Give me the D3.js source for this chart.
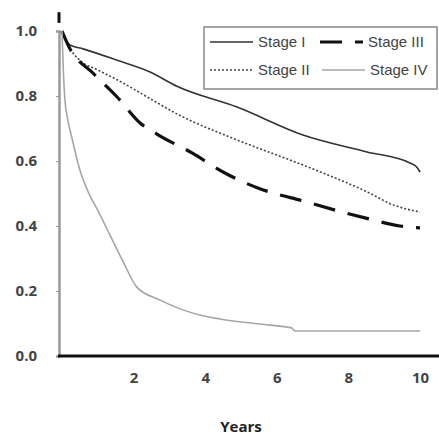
<!DOCTYPE html>
<html>
<head>
<meta charset="utf-8">
<script src="https://cdn.jsdelivr.net/npm/d3@7"></script>
<style>
  body { margin: 0; background: #fff; }
  svg { display: block; }
</style>
</head>
<body>
<div id="chart"></div>
<script>
// survival curves (years, proportion surviving)
const stageIYears = [0, 0.1, 0.22, 0.59, 1.54, 2.46, 3.21, 4.89, 6.73, 8.52, 9.72, 9.92, 10];
const stageIValues = [1.0, 0.975, 0.957, 0.945, 0.91, 0.874, 0.83, 0.766, 0.68, 0.628, 0.594, 0.58, 0.566];

const stageIIYears = [0, 0.2, 0.5, 1.0, 1.54, 2.46, 3.21, 4.89, 6.79, 8.52, 9.25, 10];
const stageIIValues = [1.0, 0.95, 0.91, 0.88, 0.85, 0.792, 0.745, 0.665, 0.585, 0.505, 0.465, 0.443];

const stageIIIYears = [0, 0.2, 0.87, 1.54, 2.18, 2.65, 3.63, 4.55, 5.47, 6.84, 7.82, 8.46, 9.44, 10];
const stageIIIValues = [1.0, 0.95, 0.87, 0.797, 0.717, 0.683, 0.625, 0.563, 0.517, 0.474, 0.443, 0.425, 0.40, 0.394];

const stageIVYears = [0, 0.04, 0.08, 0.14, 0.28, 0.5, 0.75, 1.0, 1.34, 1.7, 2.09, 2.74, 3.3, 3.85, 4.41, 5.81, 6.42, 6.5, 10];
const stageIVValues = [1.0, 0.87, 0.79, 0.74, 0.67, 0.572, 0.5, 0.448, 0.372, 0.292, 0.212, 0.172, 0.145, 0.126, 0.114, 0.095, 0.086, 0.077, 0.077];

const seriesNames = ["Stage I", "Stage II", "Stage III", "Stage IV"];
const xTicks = [2, 4, 6, 8, 10];
const yTicks = [0, 0.2, 0.4, 0.6, 0.8, 1.0];

const series = [
    { name: "Stage I", years: stageIYears, values: stageIValues, color: "#333", width: 1.6, dash: null },
    { name: "Stage II", years: stageIIYears, values: stageIIValues, color: "#444", width: 1.6, dash: "2,2" },
    { name: "Stage III", years: stageIIIYears, values: stageIIIValues, color: "#111", width: 3.2, dash: "22,13" },
    { name: "Stage IV", years: stageIVYears, values: stageIVValues, color: "#a6a6a6", width: 1.6, dash: null }
];

const width = 439, height = 439;

const x = d3.scaleLinear().domain([0, 10]).range([62, 420]);
const y = d3.scaleLinear().domain([0, 1]).range([356, 31]);

const svg = d3.select("#chart")
    .append("svg")
    .attr("width", width)
    .attr("height", height);

// y axis
const yAxis = svg.append("g")
    .attr("transform", "translate(59,0)")
    .call(d3.axisLeft(y).tickValues(yTicks).tickFormat(d3.format(".1f")).tickSize(3).tickPadding(19));
yAxis.select(".domain").attr("stroke", "#999").attr("stroke-width", 2.5);
yAxis.selectAll(".tick line").attr("stroke", "#999");
yAxis.selectAll("text")
    .style("font-family", "'Open Sans', sans-serif")
    .style("font-size", "15px")
    .style("font-weight", "700")
    .attr("fill", "#444");

// curves
const line = d3.line()
    .x(d => x(d[0]))
    .y(d => y(d[1]))
    .curve(d3.curveMonotoneX);

series.forEach(s => {
    const pts = s.years.map((t, i) => [t, s.values[i]]);
    svg.append("path")
        .datum(pts)
        .attr("fill", "none")
        .attr("stroke", s.color)
        .attr("stroke-width", s.width)
        .attr("stroke-dasharray", s.dash)
        .attr("stroke-linejoin", "round")
        .attr("d", line);
});

// small mark above the start of the curves
svg.append("line")
    .attr("x1", x(0) - 3).attr("x2", x(0) - 3)
    .attr("y1", y(1.058)).attr("y2", y(1.025))
    .attr("stroke", "#111")
    .attr("stroke-width", 3);

// x axis
const xAxis = svg.append("g")
    .attr("transform", "translate(0,356)")
    .call(d3.axisBottom(x).tickValues(xTicks).tickSize(0).tickPadding(16));
xAxis.select(".domain").remove();
xAxis.append("line")
    .attr("x1", 58).attr("x2", 439)
    .attr("stroke", "#111")
    .attr("stroke-width", 3);
xAxis.selectAll("text")
    .style("font-family", "'Open Sans', sans-serif")
    .style("font-size", "15px")
    .style("font-weight", "700")
    .attr("fill", "#444");

svg.append("text")
    .attr("x", 241)
    .attr("y", 432)
    .attr("text-anchor", "middle")
    .style("font-family", "'Open Sans', sans-serif")
    .style("font-size", "15px")
    .style("font-weight", "700")
    .attr("fill", "#222")
    .text("Years");

// legend
const legend = svg.append("g");
legend.append("rect")
    .attr("x", 204).attr("y", 27)
    .attr("width", 233).attr("height", 62)
    .attr("fill", "#fff")
    .attr("stroke", "#888")
    .attr("stroke-width", 1.5);

const legendPos = [
    { x: 210, y: 42 },
    { x: 210, y: 70 },
    { x: 320, y: 42 },
    { x: 322, y: 70 }
];

series.forEach((s, i) => {
    const p = legendPos[i];
    legend.append("line")
        .attr("x1", p.x).attr("x2", p.x + 43)
        .attr("y1", p.y).attr("y2", p.y)
        .attr("stroke", s.color)
        .attr("stroke-width", s.width)
        .attr("stroke-dasharray", s.dash);
    legend.append("text")
        .attr("x", p.x + 48)
        .attr("y", p.y + 5)
        .style("font-family", "'Liberation Sans', Arial, sans-serif")
        .style("font-size", "15px")
        .attr("fill", "#444")
        .text(seriesNames[i]);
});
</script>
</body>
</html>
